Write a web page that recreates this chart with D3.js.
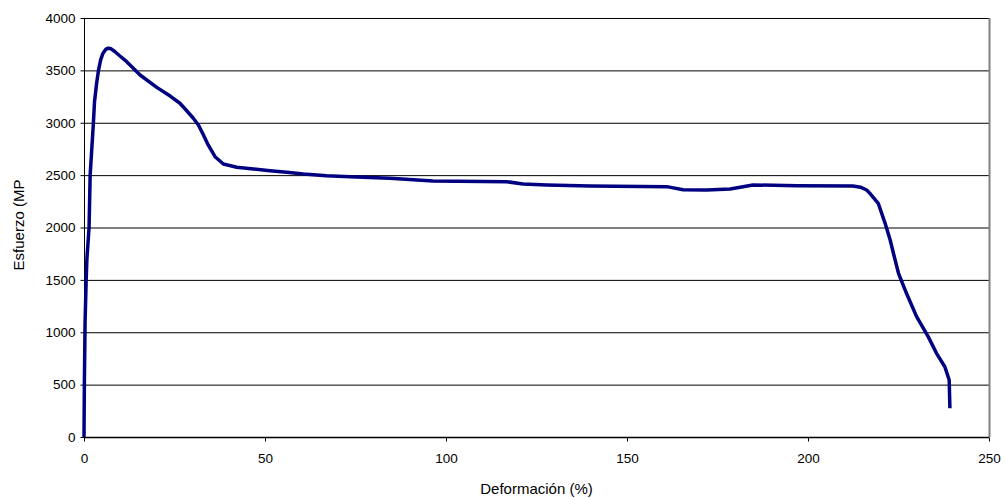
<!DOCTYPE html>
<html>
<head>
<meta charset="utf-8">
<script src="https://cdn.jsdelivr.net/npm/d3@7"></script>
<style>
body { margin: 0; background: #fff; }
svg { display: block; font-family: "Liberation Sans", Arial, sans-serif; }
</style>
</head>
<body>
<svg id="grafico"></svg>
<script>
"use strict"
// datos
const deformacion = [0, 0.1, 0.3, 0.6, 0.8, 1.4, 1.7, 2.6, 2.9, 3.5, 4.0, 4.6, 5.2, 6.0, 6.7, 7.5, 8.5, 10, 11.8, 15.5, 20.1, 23.8, 26.5, 28.5,
    30.2, 31.6, 33, 34.3, 36.2, 38.5, 42.2, 46.8, 51.4, 56, 60.6, 67, 73.5, 84.5, 96.4, 116.8, 121.3, 127.8, 139.8, 161,
    165.5, 172, 178.5, 184.8, 196.9, 212.4, 214.5, 216.2, 217.1, 219.4, 221.3, 222.7, 223.6, 225, 227.2, 230, 233.2,
    235.5, 237.8, 239.0, 239.2];
const esfuerzo = [0, 500, 1100, 1500, 1700, 2000, 2500, 3000, 3200, 3380, 3500, 3600, 3660, 3700, 3712, 3706, 3680, 3635, 3583, 3456, 3338, 3255, 3186, 3110,
    3043, 2979, 2883, 2788, 2676, 2606, 2575, 2558, 2542, 2527, 2511, 2495, 2485, 2470, 2444, 2437, 2415, 2406, 2396, 2390,
    2360, 2358, 2368, 2406, 2399, 2396, 2385, 2358, 2326, 2231, 2040, 1881, 1754, 1563, 1372, 1149, 958,
    799, 671, 544, 274];
const ticksX = [0, 50, 100, 150, 200, 250];
const ticksY = [0, 500, 1000, 1500, 2000, 2500, 3000, 3500, 4000];

const grafico = { w: 1005, h: 498 };
const area = { left: 84, right: 989, top: 18, bottom: 437 };

const svg = d3.select("#grafico")
    .attr("width", grafico.w)
    .attr("height", grafico.h);

const scalaX = d3.scaleLinear().domain([0, 250]).range([area.left, area.right]);
const scalaY = d3.scaleLinear().domain([0, 4000]).range([area.bottom, area.top]);

// griglia orizzontale
svg.append("g")
    .selectAll("line")
    .data(ticksY.filter(function (d) { return d > 0 && d < 4000 }))
    .enter()
    .append("line")
    .attr("x1", area.left)
    .attr("x2", area.right)
    .attr("y1", function (d) { return scalaY(d) + 0.5 })
    .attr("y2", function (d) { return scalaY(d) + 0.5 })
    .attr("stroke", "#000")
    .attr("stroke-width", 1);

// bordo dell'area
svg.append("line")
    .attr("x1", area.left).attr("x2", area.right)
    .attr("y1", area.top + 0.5).attr("y2", area.top + 0.5)
    .attr("stroke", "#000");
svg.append("line")
    .attr("x1", area.right + 0.5).attr("x2", area.right + 0.5)
    .attr("y1", area.top).attr("y2", area.bottom)
    .attr("stroke", "#808080").attr("stroke-width", 2);

const asseX = d3.axisBottom(scalaX).tickValues(ticksX).tickFormat(d3.format("d")).tickSize(4).tickPadding(12);
const asseY = d3.axisLeft(scalaY).tickValues(ticksY).tickFormat(d3.format("d")).tickSize(4).tickPadding(5);

svg.append("g")
    .attr("transform", `translate(0,${area.bottom + 0.5})`)
    .call(asseX)
    .call(function (g) { g.select(".domain").attr("d", `M${area.left},0H${area.right}`).attr("stroke-width", 1.5) })
    .selectAll("text")
    .attr("font-size", "13.5px")
    .attr("fill", "#000");

svg.append("g")
    .attr("transform", `translate(${area.left + 0.5},0)`)
    .call(asseY)
    .call(function (g) { g.select(".domain").attr("d", `M0,${area.top}V${area.bottom}`) })
    .selectAll("text")
    .attr("font-size", "13.5px")
    .attr("fill", "#000");

svg.selectAll(".tick line").attr("stroke", "#000");
svg.selectAll(".tick text").attr("font-family", "Liberation Sans, Arial, sans-serif");

// curva
const linea = d3.line()
    .x(function (d) { return scalaX(d[0]) })
    .y(function (d) { return scalaY(d[1]) });

svg.append("path")
    .datum(d3.zip(deformacion, esfuerzo))
    .attr("d", linea)
    .attr("fill", "none")
    .attr("stroke", "#000080")
    .attr("stroke-width", 3.5)
    .attr("stroke-linejoin", "round")
    .attr("stroke-linecap", "butt");

// titoli degli assi
svg.append("text")
    .attr("x", (area.left + area.right) / 2)
    .attr("y", 494)
    .attr("text-anchor", "middle")
    .attr("font-size", "15px")
    .text("Deformación (%)");

svg.append("text")
    .attr("transform", `translate(23.5,225) rotate(-90)`)
    .attr("text-anchor", "middle")
    .attr("font-size", "15px")
    .text("Esfuerzo (MP");
</script>
</body>
</html>
